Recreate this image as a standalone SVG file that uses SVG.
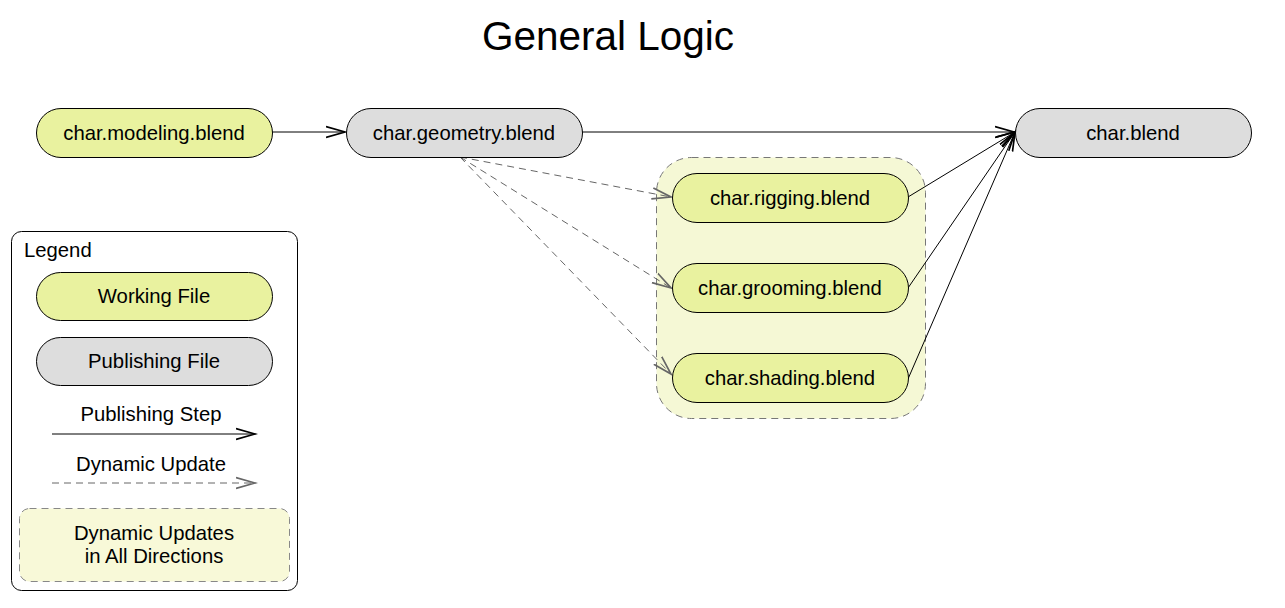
<svg xmlns="http://www.w3.org/2000/svg" width="1285" height="608" viewBox="0 0 1285 608">
<defs>
<style>
text{font-family:"Liberation Sans",Arial,sans-serif;fill:#000}
.lbl{font-size:20.3px;text-anchor:middle}
.work{fill:#e9f29f;stroke:#000;stroke-width:1}
.pub{fill:#dddddd;stroke:#000;stroke-width:1}
.solid{stroke:#000;stroke-width:1;fill:none}
.dash{stroke:#666;stroke-width:1;fill:none;stroke-dasharray:7,5}
</style>
<marker id="ah" markerUnits="userSpaceOnUse" markerWidth="22" markerHeight="14" refX="19" refY="7" orient="auto" viewBox="0 0 22 14">
<path d="M0,1.5 L19,7 L0,12.5" fill="none" stroke="#000" stroke-width="1.7"/>
</marker>
<marker id="ahd" markerUnits="userSpaceOnUse" markerWidth="22" markerHeight="14" refX="19" refY="7" orient="auto" viewBox="0 0 22 14">
<path d="M0,1.5 L19,7 L0,12.5" fill="none" stroke="#666" stroke-width="1.7"/>
</marker>
</defs>
<rect width="1285" height="608" fill="#fff"/>
<text x="608" y="50" font-size="40.5" text-anchor="middle">General Logic</text>

<g id="cluster">
<rect x="656.5" y="157.5" width="269" height="261" rx="35" fill="#f5f8d5" stroke="#777" stroke-dasharray="7,5"/>
</g>

<g id="connectors">
<line class="solid" x1="272" y1="132" x2="345" y2="132" marker-end="url(#ah)"/>
<line class="solid" x1="582" y1="132" x2="1014" y2="132" marker-end="url(#ah)"/>
<line class="dash" x1="460" y1="157" x2="671" y2="197" marker-end="url(#ahd)"/>
<line class="dash" x1="460" y1="157" x2="671" y2="288" marker-end="url(#ahd)"/>
<line class="dash" x1="460" y1="157" x2="671" y2="374" marker-end="url(#ahd)"/>
<line class="solid" x1="908" y1="197" x2="1015" y2="132" marker-end="url(#ah)"/>
<line class="solid" x1="908" y1="288" x2="1015" y2="132" marker-end="url(#ah)"/>
<line class="solid" x1="908" y1="379" x2="1015" y2="132" marker-end="url(#ah)"/>
</g>

<g id="modeling">
<rect class="work" x="36.5" y="108.5" width="236" height="49" rx="24.5"/>
<text class="lbl" x="154" y="140">char.modeling.blend</text>
</g>
<g id="geometry">
<rect class="pub" x="346.5" y="108.5" width="236" height="49" rx="24.5"/>
<text class="lbl" x="464" y="140">char.geometry.blend</text>
</g>
<g id="charblend">
<rect class="pub" x="1015.5" y="108.5" width="236" height="49" rx="24.5"/>
<text class="lbl" x="1133" y="140">char.blend</text>
</g>
<g id="rigging">
<rect class="work" x="672.5" y="173.5" width="236" height="49" rx="24.5"/>
<text class="lbl" x="790" y="205">char.rigging.blend</text>
</g>
<g id="grooming">
<rect class="work" x="672.5" y="263.5" width="236" height="49" rx="24.5"/>
<text class="lbl" x="790" y="295">char.grooming.blend</text>
</g>
<g id="shading">
<rect class="work" x="672.5" y="353.5" width="236" height="49" rx="24.5"/>
<text class="lbl" x="790" y="385">char.shading.blend</text>
</g>

<g id="legend">
<rect x="11.5" y="231.5" width="286" height="359" rx="10" fill="#fff" stroke="#000"/>
<text x="24" y="257" font-size="20.3">Legend</text>
<rect class="work" x="36.5" y="272.5" width="236" height="48" rx="24"/>
<text class="lbl" x="154" y="303">Working File</text>
<rect class="pub" x="36.5" y="337.5" width="236" height="48" rx="24"/>
<text class="lbl" x="154" y="368">Publishing File</text>
<text class="lbl" x="151" y="421">Publishing Step</text>
<line class="solid" x1="52" y1="434" x2="255" y2="434" marker-end="url(#ah)"/>
<text class="lbl" x="151" y="471">Dynamic Update</text>
<line class="dash" x1="52" y1="483" x2="255" y2="483" marker-end="url(#ahd)"/>
<rect x="19.5" y="508.5" width="270" height="73" rx="10" fill="#f8f9d8" stroke="#888" stroke-dasharray="7,5"/>
<text class="lbl" x="154" y="540">Dynamic Updates</text>
<text class="lbl" x="154" y="563">in All Directions</text>
</g>
</svg>
